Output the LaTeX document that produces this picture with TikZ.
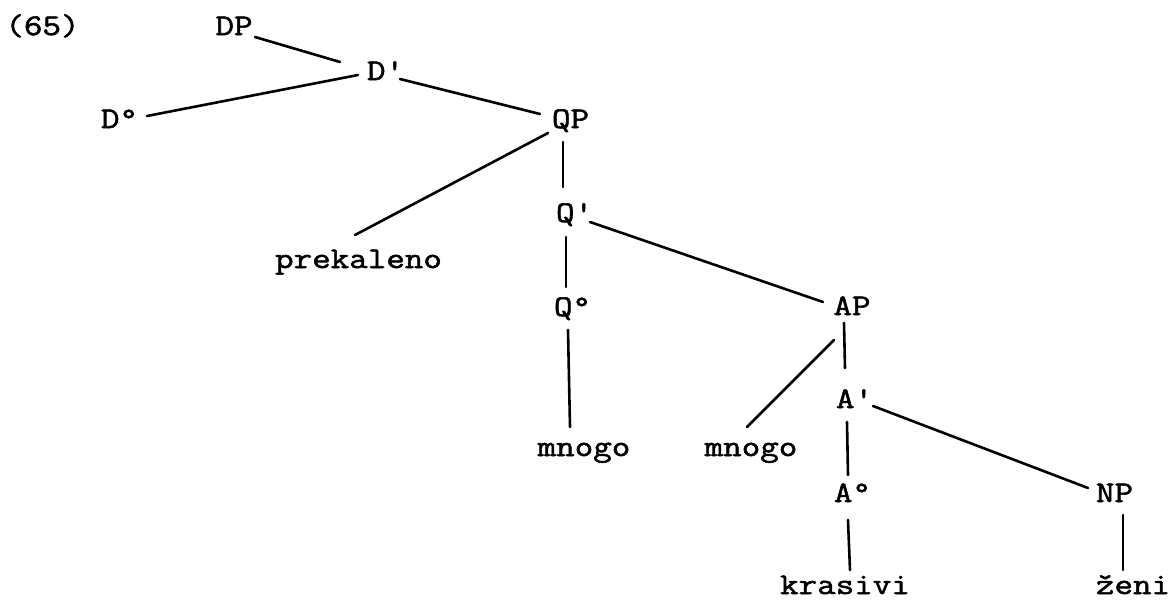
\documentclass[tikz,border=0pt]{standalone}
\usepackage{fontspec}
\newfontfamily\treefont{Latin Modern Mono}[FakeBold=1.8, FakeStretch=1.2]
\begin{document}
\begin{tikzpicture}[x=1pt,y=-1pt,
  lbl/.style={font=\treefont\fontsize{30}{36}\selectfont, inner sep=0pt, anchor=base},
  edge/.style={line width=2.6pt, line cap=round}]
\useasboundingbox (0,0) rectangle (1176,600);
\fill[white] (0,0) rectangle (1176,600);
% nodes
\node[lbl] (n65)  at (42.5,35)  {(65)};
\node[lbl] (dp)   at (234,35)   {DP};
\node[lbl] (d1)   at (384,80)   {D\textquotesingle};
\node[lbl] (d0)   at (119.5,128) {D°};
\node[lbl] (qp)   at (570.5,128) {QP};
\node[lbl] (q1)   at (573,222)  {Q\textquotesingle};
\node[lbl] (prek) at (358.5,268) {prekaleno};
\node[lbl] (q0)   at (572.5,316) {Q°};
\node[lbl] (ap)   at (852,315)  {AP};
\node[lbl] (m1)   at (584,456)  {mnogo};
\node[lbl] (m2)   at (751,456)  {mnogo};
\node[lbl] (a1)   at (853,408)  {A\textquotesingle};
\node[lbl] (a0)   at (852.5,502) {A°};
\node[lbl] (np)   at (1114.5,502) {NP};
\node[lbl] (kras) at (845,594)  {krasivi};
\node[lbl] (zeni) at (1133,594) {ženi};
% connectors
\draw[edge] ([shift={(21,2)}]dp.base) -- ([shift={(-44,-18)}]d1.base);
\draw[edge] ([shift={(-26,-5)}]d1.base) -- ([shift={(27.5,-12)}]d0.base);
\draw[edge] ([shift={(16,-1)}]d1.base) -- ([shift={(-30.5,-14)}]qp.base);
\draw[edge] ([shift={(-22.5,5)}]qp.base) -- ([shift={(-3.5,-33)}]prek.base);
\draw[edge] ([shift={(-7.5,14)}]qp.base) -- ([shift={(-10,-35)}]q1.base);
\draw[edge] ([shift={(17,0)}]q1.base) -- ([shift={(-29,-13)}]ap.base);
\draw[edge] ([shift={(-7,15)}]q1.base) -- ([shift={(-6.5,-29)}]q0.base);
\draw[edge] ([shift={(-4.5,14)}]q0.base) -- ([shift={(-14,-29)}]m1.base);
\draw[edge] ([shift={(-18,25)}]ap.base) -- ([shift={(-4,-29)}]m2.base);
\draw[edge] ([shift={(-8,8)}]ap.base) -- ([shift={(-8,-40)}]a1.base);
\draw[edge] ([shift={(20,-2)}]a1.base) -- ([shift={(-26.5,-14)}]np.base);
\draw[edge] ([shift={(-6,14)}]a1.base) -- ([shift={(-4.5,-27)}]a0.base);
\draw[edge] ([shift={(-4.5,18)}]a0.base) -- ([shift={(5,-24)}]kras.base);
\draw[edge] ([shift={(8.5,13)}]np.base) -- ([shift={(-10,-24)}]zeni.base);
\end{tikzpicture}
\end{document}
